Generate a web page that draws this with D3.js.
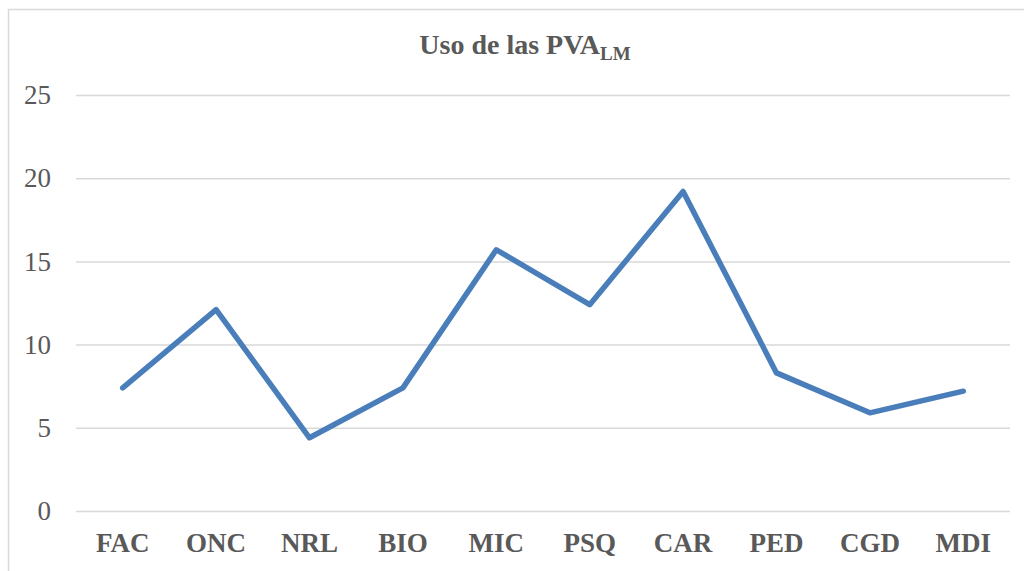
<!DOCTYPE html>
<html lang="es">
<head>
<meta charset="UTF-8">
<title>Uso de las PVA LM</title>
<script src="https://d3js.org/d3.v7.min.js"></script>
<style>
  body { margin: 0; background: #fff; }
  text { font-family: "Liberation Serif", "Times New Roman", serif; fill: #595959; }
</style>
</head>
<body>
<div id="chart"></div>
<script>
// data
const categories = ["FAC", "ONC", "NRL", "BIO", "MIC", "PSQ", "CAR", "PED", "CGD", "MDI"];
const usage = [7.4, 12.1, 4.4, 7.4, 15.7, 12.4, 19.2, 8.3, 5.9, 7.2];
const yTicks = [0, 5, 10, 15, 20, 25];

const width = 1024, height = 571;
const plot = { left: 76, right: 1010, top: 95, bottom: 511 };

const svg = d3.select("#chart").append("svg")
  .attr("width", width)
  .attr("height", height);

// outer chart border (runs off the right and bottom edge)
svg.append("rect")
  .attr("x", 8.5).attr("y", 9.5)
  .attr("width", 1040).attr("height", 600)
  .attr("fill", "none")
  .attr("stroke", "#d9d9d9")
  .attr("stroke-width", 1.5);

const x = d3.scaleBand()
  .domain(categories)
  .range([plot.left, plot.right]);

const y = d3.scaleLinear()
  .domain([0, 25])
  .range([plot.bottom, plot.top]);

// gridlines + y labels
const yAxis = svg.append("g")
  .attr("transform", `translate(${plot.left},0)`)
  .call(d3.axisLeft(y).tickValues(yTicks).tickSize(-(plot.right - plot.left)).tickPadding(25));
yAxis.select(".domain").remove();
yAxis.selectAll(".tick line").attr("stroke", "#d9d9d9").attr("stroke-width", 1.5);
yAxis.selectAll(".tick text")
  .attr("font-size", 27)
  .attr("fill", "#595959")
  .style("font-family", "'Liberation Serif', 'Times New Roman', serif");

// category labels
const xAxis = svg.append("g")
  .attr("transform", `translate(0,${plot.bottom})`)
  .call(d3.axisBottom(x).tickSize(0).tickPadding(22));
xAxis.select(".domain").remove();
xAxis.selectAll(".tick text")
  .attr("font-size", 27)
  .attr("font-weight", "bold")
  .attr("fill", "#595959")
  .style("font-family", "'Liberation Serif', 'Times New Roman', serif");

// line
const line = d3.line()
  .x((d, i) => x(categories[i]) + x.bandwidth() / 2)
  .y(d => y(d));

svg.append("path")
  .datum(usage)
  .attr("d", line)
  .attr("fill", "none")
  .attr("stroke", "#4a7ebb")
  .attr("stroke-width", 5.5)
  .attr("stroke-linejoin", "round")
  .attr("stroke-linecap", "round");

// title with subscript
const title = svg.append("text")
  .attr("x", 525)
  .attr("y", 54)
  .attr("text-anchor", "middle")
  .attr("font-size", 28)
  .attr("font-weight", "bold");
title.append("tspan").text("Uso de las PVA");
title.append("tspan").attr("font-size", 19).attr("dy", 6).text("LM");
</script>
</body>
</html>
